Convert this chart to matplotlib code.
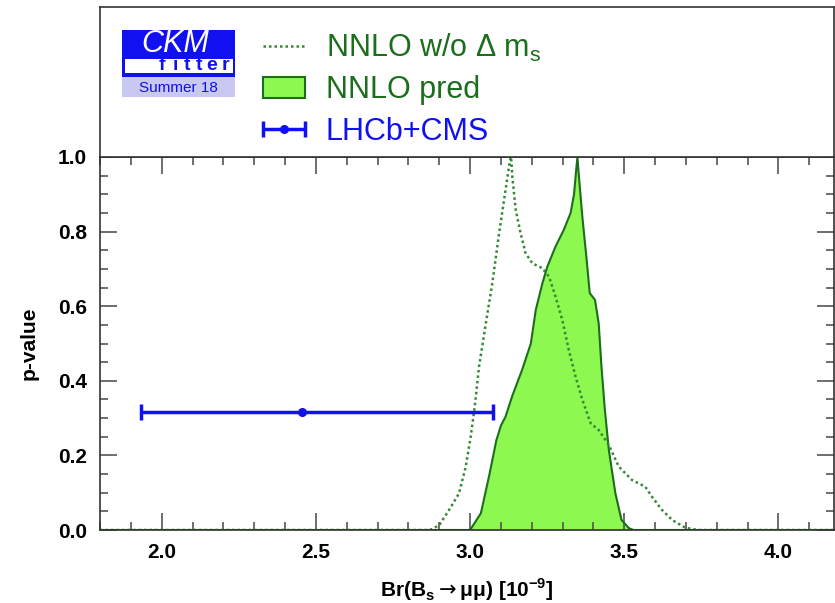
import matplotlib
matplotlib.use('Agg')
import matplotlib.pyplot as plt
from matplotlib.patches import Rectangle
from matplotlib.ticker import MultipleLocator
from matplotlib.legend_handler import HandlerErrorbar
from matplotlib.container import ErrorbarContainer
import numpy as np

plt.rcParams['font.family'] = ['Liberation Sans', 'DejaVu Sans']

# NNLO prediction (filled)
x_pred = [1.80, 3.00, 3.035, 3.063, 3.085, 3.100, 3.115, 3.137, 3.169, 3.197, 3.213,
          3.234, 3.250, 3.277, 3.304, 3.326, 3.337, 3.344, 3.348, 3.353, 3.364, 3.377,
          3.388, 3.405, 3.417, 3.426, 3.437, 3.450, 3.471, 3.491, 3.515, 3.53, 4.18]
p_pred = [0.0, 0.0, 0.045, 0.15, 0.24, 0.28, 0.304, 0.36, 0.43, 0.50, 0.59,
          0.66, 0.705, 0.76, 0.805, 0.85, 0.90, 0.965, 1.0, 0.947, 0.84, 0.733,
          0.635, 0.617, 0.554, 0.438, 0.322, 0.214, 0.099, 0.027, 0.005, 0.0, 0.0]

# NNLO without Delta m_s (dotted)
x_nodm = [1.80, 2.87, 2.90, 2.932, 2.964, 2.986, 3.002, 3.015, 3.029, 3.051, 3.072,
          3.094, 3.115, 3.129, 3.133, 3.137, 3.148, 3.164, 3.180, 3.202, 3.234, 3.256,
          3.277, 3.299, 3.320, 3.342, 3.364, 3.391, 3.417, 3.450, 3.482, 3.525, 3.568,
          3.590, 3.622, 3.655, 3.698, 3.74, 4.18]
p_nodm = [0.0, 0.0, 0.013, 0.054, 0.098, 0.17, 0.25, 0.33, 0.438, 0.554, 0.661,
          0.795, 0.912, 0.99, 1.0, 0.947, 0.858, 0.795, 0.742, 0.715, 0.702, 0.679,
          0.626, 0.563, 0.483, 0.411, 0.349, 0.286, 0.268, 0.228, 0.17, 0.134, 0.116,
          0.089, 0.054, 0.027, 0.006, 0.0, 0.0]

# LHCb+CMS measurement
meas_x = 2.456
meas_lo = 0.523
meas_hi = 0.617
meas_p = 0.317

dark_green = '#1b6e1b'
dot_green = '#338a33'
fill_green = '#8cf850'
blue = '#1010f0'

W, H = 835, 603
fig = plt.figure(figsize=(W / 100, H / 100), dpi=100)

def fbox(x0, y0, x1, y1):
    # pixel box (top-left origin) -> figure fraction
    return [x0 / W, 1 - y1 / H, (x1 - x0) / W, (y1 - y0) / H]

ax = fig.add_axes(fbox(100, 157, 834, 530))
top = fig.add_axes(fbox(100, 7, 834, 157))

ax.fill_between(x_pred, p_pred, 0, color=fill_green, lw=0)
l_pred, = ax.plot(x_pred, p_pred, color=dark_green, lw=1.5)
l_nodm, = ax.plot(x_nodm, p_nodm, color=dot_green, lw=1.8, ls=(0, (1, 1.2)))
eb = ax.errorbar([meas_x], [meas_p], xerr=[[meas_lo], [meas_hi]], fmt='o', color=blue,
                 ms=5.5, lw=2.5, capsize=6, capthick=2.5)

ax.set_xlim(1.8, 4.18)
ax.set_ylim(0, 1)
ax.xaxis.set_major_locator(MultipleLocator(0.5))
ax.xaxis.set_minor_locator(MultipleLocator(0.1))
ax.yaxis.set_major_locator(MultipleLocator(0.2))
ax.yaxis.set_minor_locator(MultipleLocator(0.05))
ax.xaxis.set_major_formatter(matplotlib.ticker.FormatStrFormatter('%.1f'))
ax.yaxis.set_major_formatter(matplotlib.ticker.FormatStrFormatter('%.1f'))
ax.tick_params(which='both', direction='in', top=True, right=True, color='#555555', width=1.2)
ax.tick_params(which='major', length=12, pad=9.5, labelsize=15)
ax.tick_params(which='minor', length=5.5)
for lab in ax.get_xticklabels() + ax.get_yticklabels():
    lab.set_fontweight('bold')
for s in ax.spines.values():
    s.set_linewidth(1.2)
    s.set_color('#333333')

ax.set_ylabel('p-value', fontsize=15, fontweight='bold', labelpad=14)
ax.set_xlabel(r'Br(B$_\mathregular{s}$$\rightarrow$μμ) [10$^\mathregular{-9}$]',
              fontsize=15, fontweight='bold', labelpad=10)

# header box with logo and legend
top.set_xlim(100, 834)
top.set_ylim(157, 7)
top.set_xticks([])
top.set_yticks([])
for s in top.spines.values():
    s.set_linewidth(1.2)
    s.set_color('#333333')

top.add_patch(Rectangle((122, 30), 113, 47, color=blue, lw=0))
top.add_patch(Rectangle((122, 77), 113, 20, color='#c8c8f2', lw=0))
top.add_patch(Rectangle((124.5, 59), 108.5, 14, color='white', lw=0))
top.text(175, 44, 'CKM', color='white', fontsize=22, style='italic',
         ha='center', va='center')
for xc, ch in zip([162, 175, 187, 198.5, 212, 225], 'fitter'):
    top.text(xc, 66, ch, color=blue, fontsize=14, fontweight='bold',
             ha='center', va='center')
top.text(178, 88, 'Summer 18', color=blue, fontsize=11, ha='center', va='center')

fill_handle = Rectangle((0, 0), 1, 1, facecolor=fill_green, edgecolor=dark_green, lw=1.5)
fig.legend([l_nodm, fill_handle, eb],
           [r'NNLO w/o Δ m$_\mathregular{s}$', 'NNLO pred', 'LHCb+CMS'],
           loc='upper left', bbox_to_anchor=(263 / W, 1 - 31.5 / H), frameon=False,
           fontsize=22, labelcolor=[dark_green, dark_green, blue],
           handlelength=1.38, handleheight=0.72, handletextpad=0.68,
           labelspacing=0.38, borderpad=0, borderaxespad=0,
           handler_map={ErrorbarContainer: HandlerErrorbar(xerr_size=0.7)})

fig.savefig('out.png', dpi=100)
